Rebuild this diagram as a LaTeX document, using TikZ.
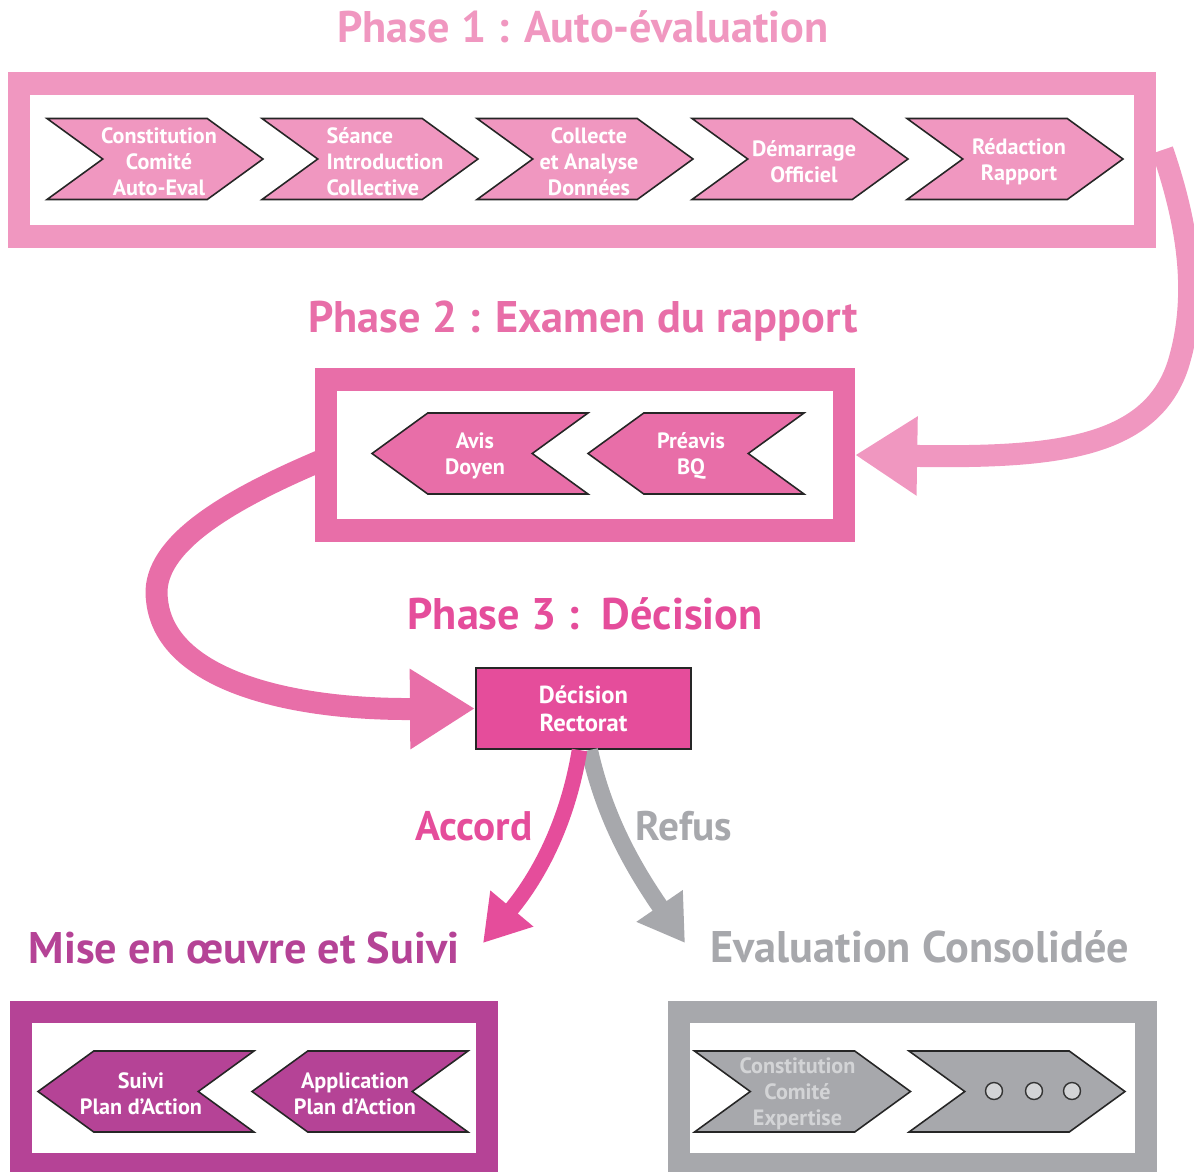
\documentclass[tikz,border=0pt]{standalone}
\usepackage{fontspec}
\setmainfont{PT Sans}
\usetikzlibrary{arrows.meta,positioning,shapes.symbols}

\definecolor{phaseone}{HTML}{F097C0}
\definecolor{phasetwo}{HTML}{E86EA8}
\definecolor{phasethree}{HTML}{E54D9B}
\definecolor{suivi}{HTML}{B54396}
\definecolor{refus}{HTML}{A7A8AC}
\definecolor{refustext}{HTML}{D3D4D6}

\tikzset{
  frame/.style={draw, line width=0.45cm, inner sep=0pt},
  chevtext/.style={align=center, text=white, inner sep=0pt, yshift=-0.05cm,
    font=\fontsize{12.6}{14.7}\selectfont\bfseries},
  chev/.style={signal, signal pointer angle=72, draw=black!85, line width=0.9pt,
    minimum width=4.32cm, minimum height=1.62cm, inner sep=0pt},
  chevr/.style={chev, signal to=east, signal from=west,
    label={[chevtext,xshift=0.08cm]center:#1}},
  chevl/.style={chev, signal to=west, signal from=east,
    label={[chevtext,xshift=-0.1cm]center:#1}},
  phasetitle/.style={font=\fontsize{25.2}{28}\selectfont\bfseries},
  branchlabel/.style={font=\fontsize{23.5}{26}\selectfont\bfseries},
}

\begin{document}
\begin{tikzpicture}[x=0.02cm,y=-0.02cm]
\useasboundingbox (0,0) rectangle (1194,1171);

% Phase 1
\node[phasetitle,text=phaseone] (t1) at (583,27) {Phase 1 : Auto-évaluation};
\node[frame,draw=phaseone,minimum width=22.53cm,minimum height=3.06cm] (p1box) at (582,160) {};
\node[chevr={Constitution\\Comité\\Auto-Eval},fill=phaseone] (c11) at (155,159) {};
\node[chev,signal to=east,signal from=west,fill=phaseone,
  label={[chevtext,xshift=0.3cm,yshift=-0.06cm]center:\begin{tabular}{@{}l@{}}Séance\\Introduction\\Collective\end{tabular}}] (c12) at (370,159) {};
\node[chevr={Collecte\\et Analyse\\Données},fill=phaseone] (c13) at (585,159) {};
\node[chevr={Démarrage\\Officiel},fill=phaseone] (c14) at (800,159) {};
\node[chevr={Rédaction\\Rapport},fill=phaseone] (c15) at (1015,159) {};

% Phase 2
\node[phasetitle,text=phasetwo] (t2) at (583,321) {Phase 2 : Examen du rapport};
\node[frame,draw=phasetwo,minimum width=10.36cm,minimum height=3.03cm] (p2box) at (585,455) {};
\node[chevl={Avis\\Doyen},fill=phasetwo] (c21) at (480,453.5) {};
\node[chevl={Préavis\\BQ},fill=phasetwo] (c22) at (696,453.5) {};

% Phase 3
\node[phasetitle,text=phasethree] (t3) at (585,614) {Phase 3 :~~Décision};
\node[draw=black!85,line width=1.2pt,fill=phasethree,minimum width=4.3cm,minimum height=1.62cm,
  align=center,text=white,font=\fontsize{14}{15.9}\selectfont\bfseries] (dec) at (583.5,708.5) {Décision\\Rectorat};

\draw[phaseone,line width=0.44cm,-{Triangle[length=1.24cm,width=1.5cm]}]
  ([shift={(6,-10)}]p1box.east) .. controls (1190,230) and (1198,300) .. (1178,365)
  .. controls (1150,450) and (1050,458) .. (p2box.east);
\draw[phasetwo,line width=0.44cm,-{Triangle[length=1.3cm,width=1.52cm]}]
  ([shift={(10,4)}]p2box.west) .. controls (215,505) and (150,550) .. (157,600)
  .. controls (165,680) and (290,710) .. (dec.west);

% Accord / Refus
\coordinate (accordend) at (483,943);
\coordinate (refusend) at (685,943);
\draw[refus,line width=0.34cm,-{Triangle[length=0.9cm,width=1.06cm]}]
  ([shift={(6,0)}]dec.south) .. controls (605,820) and (635,870) .. (refusend);
\draw[phasethree,line width=0.31cm,-{Triangle[length=0.9cm,width=1.06cm]}]
  ([shift={(-4,0)}]dec.south) .. controls (568,820) and (540,875) .. (accordend);
\node[branchlabel,text=phasethree] (accord) at (474,826) {Accord};
\node[branchlabel,text=refus] (refuslbl) at (684,826) {Refus};

% Mise en oeuvre
\node[phasetitle,text=suivi] (t4) at (244,948) {Mise en œuvre et Suivi};
\node[frame,draw=suivi,minimum width=9.32cm,minimum height=3.05cm] (p4box) at (254,1088) {};
\node[chevl={Suivi\\Plan d’Action},fill=suivi] (c41) at (146,1091.5) {};
\node[chevl={Application\\Plan d’Action},fill=suivi] (c42) at (360,1091.5) {};

% Evaluation consolidee
\node[phasetitle,text=refus] (t5) at (920,947) {Evaluation Consolidée};
\node[frame,draw=refus,minimum width=9.34cm,minimum height=3.05cm] (p5box) at (912.5,1088) {};
\node[chev,signal to=east,signal from=west,fill=refus,
  label={[chevtext,text=refustext,xshift=-0.1cm]center:Constitution\\Comité\\Expertise}] (c51) at (802.5,1091.5) {};
\node[chev,signal to=east,signal from=west,fill=refus] (c52) at (1017,1091.5) {};
\foreach \x [count=\i] in {994,1034,1072}
  \node[circle,draw=black!80,fill=refustext,line width=0.8pt,minimum size=0.34cm,inner sep=0pt] (dot\i) at (\x,1091) {};
\end{tikzpicture}
\end{document}
